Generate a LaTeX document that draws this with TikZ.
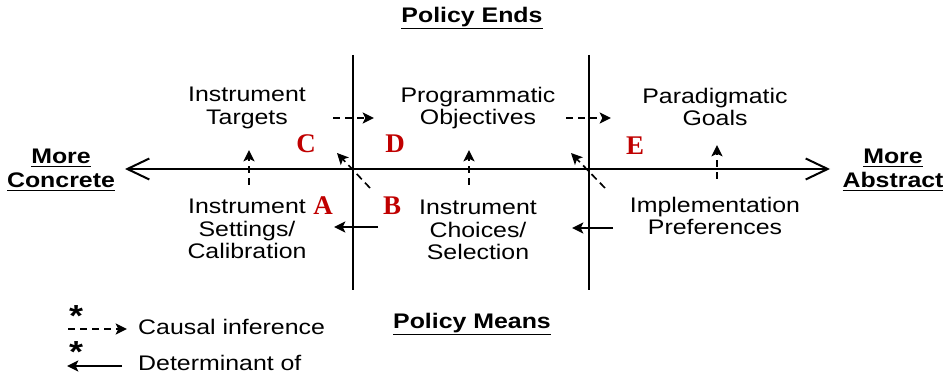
\documentclass[tikz,border=0pt]{standalone}
\usepackage{fontspec}
\setmainfont{Liberation Sans}[FakeStretch=1.18]
\newfontfamily\letterfont{Liberation Serif}
\usetikzlibrary{arrows.meta}
\definecolor{letterred}{RGB}{192,0,0}

\begin{document}
\begin{tikzpicture}[x=0.03cm,y=-0.03cm,
	lbl/.style={font=\fontsize{18}{19.5}\selectfont,align=center,inner sep=0pt},
	heading/.style={font=\fontsize{18}{20.5}\selectfont\bfseries,align=center,inner sep=0pt},
	letter/.style={font=\fontsize{23}{23}\selectfont\letterfont\bfseries,text=letterred,inner sep=0pt},
	star/.style={font=\fontsize{26}{26}\selectfont\bfseries,inner sep=0pt},
	causal/.style={line width=1.4pt,dash pattern=on 0.22cm off 0.14cm,-{Stealth[length=0.34cm,width=0.33cm,inset=0.08cm]}},
	determ/.style={line width=1.4pt,-{Stealth[length=0.34cm,width=0.33cm,inset=0.08cm]}}]
	\useasboundingbox (0,0) rectangle (949,375);

	% axes
	\draw [line width=0.06cm,{Straight Barb[length=0.66cm,width=0.63cm]}-{Straight Barb[length=0.66cm,width=0.63cm]}] (125,169) -- (830,169);
	\draw [line width=0.06cm] (353,55) -- (353,290);
	\draw [line width=0.06cm] (589,55) -- (589,290);

	% headings
	\node[heading] (ends) at (472,18) {\underline{Policy Ends}};
	\node[heading] (means) at (472,324) {\underline{Policy Means}};
	\node[heading] (concrete) at (61,170) {\underline{More}\\\underline{Concrete}};
	\node[heading] (abstract) at (893,170) {\underline{More}\\\underline{Abstract}};

	% ends
	\node[lbl] (targets) at (247,108) {Instrument\\Targets};
	\node[lbl] (objectives) at (478,108) {Programmatic\\Objectives};
	\node[lbl] (goals) at (715,107) {Paradigmatic\\Goals};
	% means
	\node[lbl] (settings) at (247,229) {Instrument\\Settings/\\Calibration};
	\node[lbl] (choices) at (478,230) {Instrument\\Choices/\\Selection};
	\node[lbl] (prefs) at (715,216) {Implementation\\Preferences};

	% letters
	\node[letter] (lA) at (323,206) {A};
	\node[letter] (lB) at (392,206) {B};
	\node[letter] (lC) at (306,144) {C};
	\node[letter] (lD) at (395,144) {D};
	\node[letter] (lE) at (635,146) {E};

	% causal inference
	\draw [causal] (333,118) -- (374,118);
	\draw [causal] (566,118) -- (611,118);
	\draw [causal] (249,185) -- (249,150);
	\draw [causal] (469,185) -- (469,150);
	\draw [causal] (717,179) -- (717,145);
	\draw [causal] (370,188) -- (337,153);
	\draw [causal] (605,188) -- (571,153);

	% determinant of
	\draw [determ] (378,227) -- (334,227);
	\draw [determ] (613,228) -- (572,228);

	% legend
	\node[star] (star1) at (76,316) {*};
	\node[star] (star2) at (76,352) {*};
	\draw [causal] (68,329) -- (127,329);
	\draw [determ] (122,366) -- (67,366);
	\node[lbl,anchor=west] (causaltxt) at (138,327) {Causal inference};
	\node[lbl,anchor=west] (determtxt) at (138,363) {Determinant of};
\end{tikzpicture}
\end{document}
